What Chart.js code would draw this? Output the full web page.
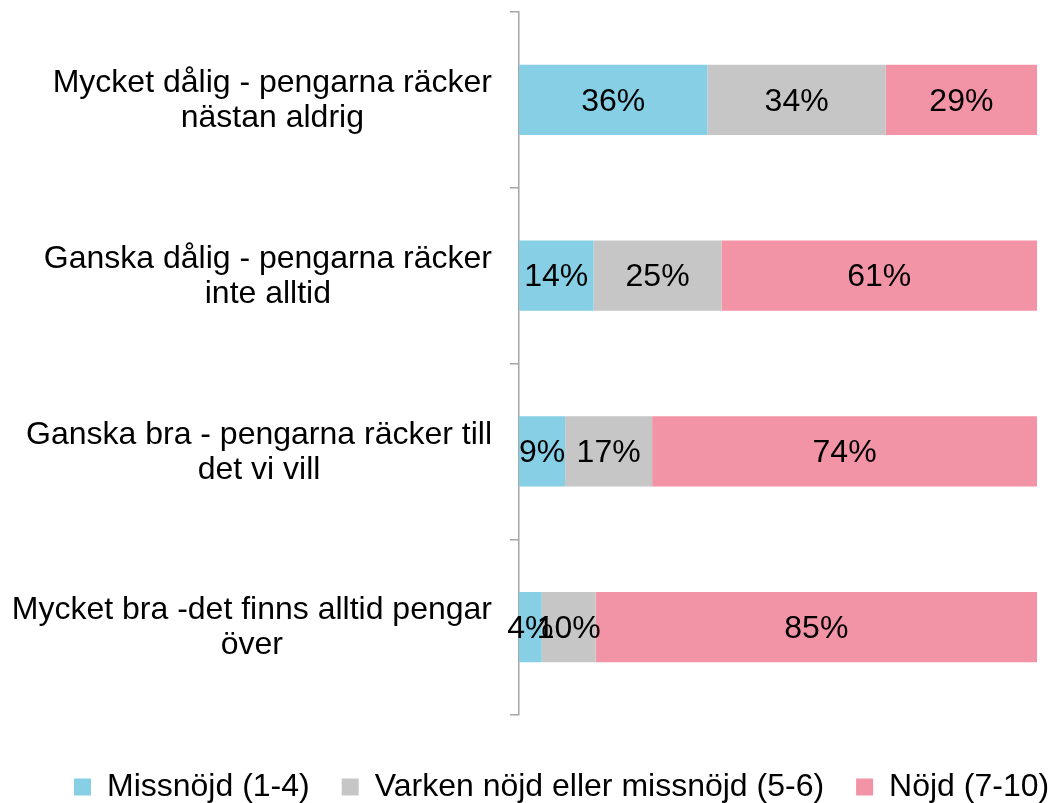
<!DOCTYPE html>
<html>
<head>
<meta charset="utf-8">
<script src="https://cdn.jsdelivr.net/npm/chart.js@4/dist/chart.umd.min.js"></script>
<style>
html,body{margin:0;padding:0;background:#fff;}
#wrap{width:1050px;height:803px;position:relative;}
</style>
</head>
<body>
<div id="wrap"><canvas id="c" width="1050" height="803"></canvas></div>
<script>
const categories = [
  ["Mycket dålig - pengarna räcker", "nästan aldrig"],
  ["Ganska dålig - pengarna räcker", "inte alltid"],
  ["Ganska bra - pengarna räcker till", "det vi vill"],
  ["Mycket bra -det finns alltid pengar", "över"]
];
const seriesNames = ["Missnöjd (1-4)", "Varken nöjd eller missnöjd (5-6)", "Nöjd (7-10)"];
const missnojd = [36.4, 14.4, 8.9, 4.4];
const varken   = [34.4, 24.7, 16.8, 10.4];
const nojd     = [29.2, 60.9, 74.3, 85.2];
const colors = ["#86CFE4", "#C6C6C6", "#F393A6"];

const FONT = '"Liberation Sans", Arial, sans-serif';

const catLabelPlugin = {
  id: 'catLabels',
  afterDraw(chart) {
    const ctx = chart.ctx;
    const ys = chart.scales.y;
    const axisX = chart.chartArea.left;
    ctx.save();
    ctx.font = '32px ' + FONT;
    ctx.fillStyle = '#000';
    ctx.textAlign = 'center';
    ctx.textBaseline = 'middle';
    const lh = 35;
    categories.forEach((lines, i) => {
      const cy = ys.getPixelForValue(i);
      const maxW = Math.max(...lines.map(l => ctx.measureText(l).width));
      const cx = axisX - 27 - maxW / 2;
      lines.forEach((l, j) => {
        ctx.fillText(l, cx, cy + 1 + (j - (lines.length - 1) / 2) * lh);
      });
    });
    ctx.restore();
  }
};

const valueLabelPlugin = {
  id: 'valueLabels',
  afterDatasetsDraw(chart) {
    const ctx = chart.ctx;
    ctx.save();
    ctx.font = '32px ' + FONT;
    ctx.fillStyle = '#000';
    ctx.textAlign = 'center';
    ctx.textBaseline = 'middle';
    chart.data.datasets.forEach((ds, di) => {
      const meta = chart.getDatasetMeta(di);
      meta.data.forEach((bar, i) => {
        const v = ds.data[i];
        ctx.fillText(Math.round(v) + '%', (bar.x + bar.base) / 2, bar.y + 2);
      });
    });
    ctx.restore();
  }
};

new Chart(document.getElementById('c'), {
  type: 'bar',
  data: {
    labels: categories,
    datasets: [
      { label: seriesNames[0], data: missnojd, backgroundColor: colors[0] },
      { label: seriesNames[1], data: varken, backgroundColor: colors[1] },
      { label: seriesNames[2], data: nojd, backgroundColor: colors[2] }
    ]
  },
  options: {
    indexAxis: 'y',
    responsive: false,
    animation: false,
    devicePixelRatio: 1,
    layout: { padding: { left: 42, right: -60, top: 12, bottom: -10 } },
    datasets: { bar: { barPercentage: 1.0, categoryPercentage: 0.4, borderWidth: 0 } },
    scales: {
      x: {
        stacked: true, min: 0, max: 100,
        display: true,
        grid: { display: false },
        border: { display: false },
        ticks: { display: false },
        afterFit(s) { s.height = 24; }
      },
      y: {
        stacked: true,
        position: 'left',
        offset: true,
        grid: { offset: true, drawOnChartArea: false, drawTicks: true, tickLength: 9, color: '#A6A6A6', lineWidth: 1.5 },
        border: { display: true, color: '#A6A6A6', width: 1.5 },
        ticks: { display: false },
        afterFit(s) { s.width = 477; }
      },
      yRight: {
        type: 'linear',
        axis: 'y',
        position: 'right',
        display: true,
        grid: { display: false },
        border: { display: false },
        ticks: { display: false },
        afterFit(s) { s.width = 73; }
      }
    },
    plugins: {
      legend: {
        display: true,
        position: 'bottom',
        align: 'start',
        labels: {
          boxWidth: 17, boxHeight: 17,
          padding: 32,
          color: '#000',
          font: { family: FONT, size: 32 }
        }
      },
      tooltip: { enabled: false }
    }
  },
  plugins: [catLabelPlugin, valueLabelPlugin]
});
</script>
</body>
</html>
